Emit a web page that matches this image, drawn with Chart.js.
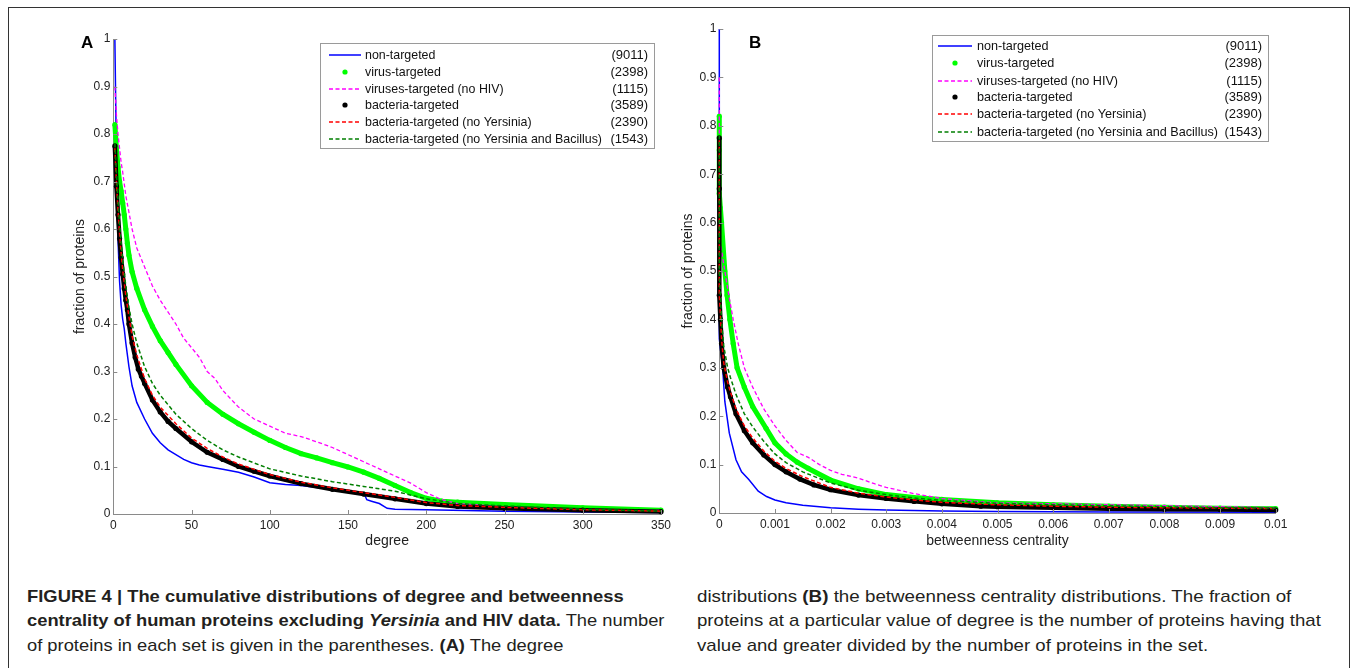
<!DOCTYPE html>
<html>
<head>
<meta charset="utf-8">
<script src="https://cdn.jsdelivr.net/npm/chart.js@4.4.1/dist/chart.umd.min.js"></script>
<style>
  body { margin: 0; background: #fff; width: 1354px; height: 668px; overflow: hidden; position: relative;
         font-family: "Liberation Sans", Arial, sans-serif; color: #231f20; }
  #frame { position: absolute; left: 8px; top: 7px; width: 1342px; height: 720px; border: 1px solid #333; box-sizing: border-box; }
  .panel { position: absolute; top: 0; }
  .tag { position: absolute; font-weight: bold; font-size: 17px; line-height: 19px; color: #000; }
  .cap { position: absolute; font-size: 17px; line-height: 20px; white-space: nowrap; transform-origin: 0 0; }
  .cap b { font-weight: bold; }
</style>
</head>
<body>
<div id="frame"></div>
<div class="panel" style="left:0"><canvas id="chartA" width="680" height="560"></canvas></div>
<div class="panel" style="left:680px"><canvas id="chartB" width="674" height="560"></canvas></div>
<div class="tag" style="left:81px;top:33px">A</div>
<div class="tag" style="left:749px;top:33px">B</div>

<div class="cap" data-w="597" style="left:27px;top:587px"><b>FIGURE 4 | The cumulative distributions of degree and betweenness</b></div>
<div class="cap" data-w="637" style="left:27px;top:611px"><b>centrality of human proteins excluding <i>Yersinia</i> and HIV data.</b> The number</div>
<div class="cap" data-w="same" style="left:27px;top:636px">of proteins in each set is given in the parentheses. <b>(A)</b> The degree</div>
<div class="cap" data-w="594" style="left:697px;top:587px">distributions <b>(B)</b> the betweenness centrality distributions. The fraction of</div>
<div class="cap" data-w="624" style="left:697px;top:611px">proteins at a particular value of degree is the number of proteins having that</div>
<div class="cap" data-w="same" style="left:697px;top:636px">value and greater divided by the number of proteins in the set.</div>

<script>
// legend entries
const seriesNames = ["non-targeted", "virus-targeted", "viruses-targeted (no HIV)", "bacteria-targeted",
                     "bacteria-targeted (no Yersinia)", "bacteria-targeted (no Yersinia and Bacillus)"];
const seriesCounts = ["(9011)", "(2398)", "(1115)", "(3589)", "(2390)", "(1543)"];

// axis ticks
const yTicks = [0, 0.1, 0.2, 0.3, 0.4, 0.5, 0.6, 0.7, 0.8, 0.9, 1];
const yTickLabels = ["0", "0.1", "0.2", "0.3", "0.4", "0.5", "0.6", "0.7", "0.8", "0.9", "1"];
const xTicksA = [0, 50, 100, 150, 200, 250, 300, 350];
const xTickLabelsA = ["0", "50", "100", "150", "200", "250", "300", "350"];
const xTicksB = [0, 0.001, 0.002, 0.003, 0.004, 0.005, 0.006, 0.007, 0.008, 0.009, 0.01];
const xTickLabelsB = ["0", "0.001", "0.002", "0.003", "0.004", "0.005", "0.006", "0.007", "0.008", "0.009", "0.01"];

// panel A: degree
const aNonX = [1, 2, 3, 4, 5, 6, 7, 8, 10, 12, 15, 20, 25, 30, 35, 40, 45, 50, 55, 60, 70, 80, 90, 100, 110, 120, 130, 140, 150, 160, 162, 165, 170, 175, 180, 200, 250, 300, 350];
const aNonY = [1.0, 0.75, 0.58, 0.49, 0.44, 0.41, 0.39, 0.36, 0.31, 0.27, 0.235, 0.2, 0.17, 0.15, 0.135, 0.125, 0.115, 0.108, 0.103, 0.1, 0.094, 0.088, 0.078, 0.066, 0.062, 0.06, 0.056, 0.052, 0.048, 0.045, 0.03, 0.027, 0.022, 0.012, 0.01, 0.009, 0.006, 0.004, 0.003];
const aVirX = [1, 2, 3, 4, 5, 6, 7, 8, 9, 10, 12, 15, 20, 25, 30, 35, 40, 50, 60, 70, 80, 90, 100, 110, 120, 130, 140, 150, 160, 170, 180, 190, 200, 210, 220, 250, 300, 350];
const aVirY = [0.82, 0.77, 0.73, 0.70, 0.68, 0.655, 0.63, 0.60, 0.57, 0.545, 0.51, 0.475, 0.43, 0.395, 0.365, 0.34, 0.315, 0.27, 0.235, 0.21, 0.19, 0.172, 0.155, 0.14, 0.127, 0.118, 0.108, 0.099, 0.088, 0.075, 0.06, 0.045, 0.033, 0.027, 0.025, 0.02, 0.013, 0.008];
const aVirNoHivX = [1, 2, 3, 4, 5, 6, 8, 10, 12, 15, 20, 25, 30, 35, 40, 45, 50, 55, 60, 65, 70, 80, 90, 100, 110, 120, 130, 140, 150, 160, 170, 180, 190, 200, 210, 220, 250, 300, 350];
const aVirNoHivY = [0.9, 0.84, 0.80, 0.77, 0.74, 0.72, 0.67, 0.635, 0.60, 0.56, 0.52, 0.48, 0.45, 0.425, 0.40, 0.37, 0.35, 0.33, 0.30, 0.285, 0.26, 0.225, 0.2, 0.185, 0.17, 0.163, 0.152, 0.14, 0.125, 0.11, 0.095, 0.08, 0.065, 0.045, 0.03, 0.022, 0.015, 0.01, 0.008];
const aBacX = [1, 2, 3, 4, 5, 6, 7, 8, 9, 10, 12, 14, 16, 18, 20, 25, 30, 35, 40, 50, 60, 70, 80, 90, 100, 120, 140, 160, 180, 200, 220, 250, 300, 350];
const aBacY = [0.775, 0.69, 0.63, 0.58, 0.54, 0.505, 0.475, 0.45, 0.43, 0.40, 0.36, 0.33, 0.305, 0.29, 0.275, 0.24, 0.215, 0.195, 0.18, 0.152, 0.13, 0.115, 0.1, 0.09, 0.08, 0.064, 0.052, 0.042, 0.032, 0.022, 0.016, 0.012, 0.008, 0.005];
const aBacNoYX = [1, 2, 3, 4, 5, 6, 8, 10, 12, 15, 20, 25, 30, 40, 50, 60, 70, 80, 100, 120, 140, 160, 180, 200, 220, 250, 300, 350];
const aBacNoYY = [0.77, 0.70, 0.64, 0.59, 0.55, 0.515, 0.46, 0.415, 0.375, 0.335, 0.285, 0.25, 0.225, 0.19, 0.16, 0.138, 0.12, 0.105, 0.083, 0.067, 0.055, 0.045, 0.035, 0.024, 0.018, 0.014, 0.009, 0.006];
const aBacNoYBX = [1, 2, 3, 4, 5, 6, 8, 10, 12, 15, 20, 25, 30, 40, 50, 60, 70, 80, 100, 120, 140, 160, 180, 200, 210, 220, 250, 300, 350];
const aBacNoYBY = [0.78, 0.72, 0.66, 0.61, 0.57, 0.535, 0.48, 0.435, 0.40, 0.36, 0.31, 0.275, 0.25, 0.21, 0.18, 0.155, 0.135, 0.12, 0.095, 0.08, 0.068, 0.058, 0.048, 0.032, 0.027, 0.022, 0.017, 0.01, 0.006];

// panel B: betweenness centrality
const bNonX = [0, 0, 0.00003, 0.00006, 0.0001, 0.00018, 0.0003, 0.0004, 0.00053, 0.0007, 0.00085, 0.001, 0.0012, 0.0015, 0.002, 0.0025, 0.003, 0.004, 0.005, 0.007, 0.01];
const bNonY = [1.0, 0.36, 0.33, 0.30, 0.23, 0.165, 0.11, 0.085, 0.069, 0.045, 0.034, 0.027, 0.021, 0.016, 0.011, 0.008, 0.006, 0.004, 0.003, 0.002, 0.0015];
const bVirX = [0, 0, 0, 0.00002, 0.00004, 0.0001, 0.00014, 0.00019, 0.00025, 0.00032, 0.00045, 0.0006, 0.00084, 0.001, 0.0012, 0.0014, 0.0016, 0.002, 0.0025, 0.003, 0.0035, 0.004, 0.005, 0.006, 0.007, 0.008, 0.009, 0.01];
const bVirY = [0.82, 0.75, 0.66, 0.63, 0.6, 0.5, 0.45, 0.4, 0.35, 0.3, 0.26, 0.22, 0.175, 0.145, 0.122, 0.105, 0.092, 0.068, 0.05, 0.038, 0.032, 0.028, 0.021, 0.017, 0.014, 0.012, 0.01, 0.009];
const bVirNoHivX = [0, 0, 0.00003, 0.0001, 0.00017, 0.00025, 0.00034, 0.00045, 0.0006, 0.0008, 0.001, 0.0012, 0.0014, 0.0016, 0.0018, 0.002, 0.0022, 0.0025, 0.0028, 0.003, 0.0035, 0.004, 0.0045, 0.005, 0.006, 0.007, 0.008, 0.009, 0.01];
const bVirNoHivY = [0.9, 0.58, 0.55, 0.5, 0.45, 0.4, 0.35, 0.3, 0.26, 0.215, 0.18, 0.15, 0.125, 0.115, 0.1, 0.088, 0.08, 0.072, 0.06, 0.053, 0.04, 0.03, 0.025, 0.021, 0.019, 0.017, 0.015, 0.013, 0.011];
const bBacX = [0, 0, 0, 0.00002, 0.00004, 0.00008, 0.00015, 0.0002, 0.0003, 0.00045, 0.0006, 0.0008, 0.001, 0.0012, 0.00145, 0.0017, 0.002, 0.0025, 0.003, 0.0035, 0.004, 0.0047, 0.005, 0.006, 0.007, 0.008, 0.009, 0.01];
const bBacY = [0.775, 0.67, 0.45, 0.40, 0.35, 0.30, 0.26, 0.24, 0.205, 0.17, 0.145, 0.12, 0.1, 0.085, 0.07, 0.058, 0.048, 0.037, 0.03, 0.024, 0.019, 0.014, 0.013, 0.011, 0.009, 0.008, 0.007, 0.006];
const bBacNoYX = [0, 0, 0.00002, 0.00004, 0.00008, 0.00015, 0.0002, 0.0003, 0.00045, 0.0006, 0.0008, 0.001, 0.0012, 0.0015, 0.002, 0.0025, 0.003, 0.0035, 0.004, 0.005, 0.006, 0.007, 0.008, 0.009, 0.01];
const bBacNoYY = [0.77, 0.45, 0.41, 0.36, 0.31, 0.27, 0.25, 0.215, 0.18, 0.155, 0.128, 0.107, 0.092, 0.075, 0.053, 0.041, 0.033, 0.027, 0.022, 0.017, 0.014, 0.012, 0.011, 0.01, 0.009];
const bBacNoYBX = bBacNoYX;
const bBacNoYBY = [0.78, 0.5, 0.45, 0.4, 0.345, 0.3, 0.28, 0.245, 0.205, 0.178, 0.148, 0.122, 0.104, 0.085, 0.062, 0.047, 0.038, 0.031, 0.026, 0.02, 0.017, 0.015, 0.013, 0.011, 0.01];

Chart.defaults.font.family = '"Liberation Sans", Arial, sans-serif';
Chart.defaults.font.size = 12;
Chart.defaults.color = '#222';

const pts = (xs, ys) => xs.map((x, i) => ({ x: x, y: ys[i] }));

// one style per series, same order as seriesNames
const styles = [
    { color: '#0000ff', width: 1.5, dash: [], dot: false, order: 6 },
    { color: '#00ff00', width: 5, dash: [], dot: true, order: 5 },
    { color: '#ff00ff', width: 1.3, dash: [4, 2.5], dot: false, order: 4 },
    { color: '#000000', width: 4.5, dash: [], dot: true, order: 3 },
    { color: '#ff0000', width: 1.5, dash: [4, 2.5], dot: false, order: 2 },
    { color: '#007f00', width: 1.5, dash: [4, 2.5], dot: false, order: 1 },
];

function makeDatasets(series) {
    return series.map((s, i) => {
        const st = styles[i];
        return {
            label: seriesNames[i],
            data: pts(s[0], s[1]),
            showLine: true,
            borderColor: st.color,
            backgroundColor: st.color,
            borderWidth: st.width,
            borderDash: st.dash,
            pointRadius: st.dot ? 2.6 : 0,
            pointBorderWidth: 0,
            order: st.order,
            clip: false,
        };
    });
}

// MATLAB style ticks pointing into the plot
const inwardTicks = {
    id: 'inwardTicks',
    afterDatasetsDraw(chart) {
        const ctx = chart.ctx;
        const xs = chart.scales.x, ys = chart.scales.y;
        const a = chart.chartArea;
        ctx.save();
        ctx.strokeStyle = '#8a8a8a';
        ctx.lineWidth = 1;
        ctx.beginPath();
        xs.ticks.forEach(t => {
            const px = Math.round(xs.getPixelForValue(t.value)) + 0.5;
            ctx.moveTo(px, a.bottom);
            ctx.lineTo(px, a.bottom - 4);
        });
        ys.ticks.forEach(t => {
            const py = Math.round(ys.getPixelForValue(t.value)) + 0.5;
            ctx.moveTo(a.left, py);
            ctx.lineTo(a.left + 4, py);
        });
        ctx.stroke();
        ctx.restore();
    }
};

// boxed legend with counts on the right
const countLegend = {
    id: 'countLegend',
    afterDraw(chart, args, opts) {
        const ctx = chart.ctx;
        ctx.save();
        ctx.fillStyle = '#fff';
        ctx.fillRect(opts.left, opts.top, opts.right - opts.left, opts.bottom - opts.top);
        ctx.strokeStyle = '#9a9a9a';
        ctx.lineWidth = 1;
        ctx.strokeRect(opts.left + 0.5, opts.top + 0.5, opts.right - opts.left, opts.bottom - opts.top);
        ctx.font = '13px "Liberation Sans", Arial, sans-serif';
        ctx.textBaseline = 'middle';
        // names are set a little narrow, as in the original figure
        const sx = opts.nameWidth / ctx.measureText(seriesNames[5]).width;
        seriesNames.forEach((name, i) => {
            const y = opts.rows[i];
            const st = styles[i];
            if (st.dot) {
                ctx.fillStyle = st.color;
                ctx.beginPath();
                ctx.arc((opts.sample[0] + opts.sample[1]) / 2, y, 2.6, 0, Math.PI * 2);
                ctx.fill();
            } else {
                ctx.strokeStyle = st.color;
                ctx.lineWidth = st.width;
                ctx.setLineDash(st.dash);
                ctx.beginPath();
                ctx.moveTo(opts.sample[0], y);
                ctx.lineTo(opts.sample[1], y);
                ctx.stroke();
                ctx.setLineDash([]);
            }
            ctx.fillStyle = '#111';
            ctx.textAlign = 'left';
            ctx.save();
            ctx.translate(opts.textX, y);
            ctx.scale(sx, 1);
            ctx.fillText(name, 0, 0);
            ctx.restore();
            ctx.textAlign = 'right';
            ctx.fillText(seriesCounts[i], opts.countX, y);
        });
        ctx.restore();
    }
};

function makeOptions(p) {
    return {
        responsive: false,
        animation: false,
        devicePixelRatio: 1,
        layout: { padding: { left: 0, right: p.padRight, top: p.padTop, bottom: 0 } },
        plugins: {
            legend: { display: false },
            tooltip: { enabled: false },
            countLegend: p.legend,
        },
        scales: {
            x: {
                type: 'linear', min: p.xTicks[0], max: p.xTicks[p.xTicks.length - 1],
                afterBuildTicks: s => { s.ticks = p.xTicks.map(v => ({ value: v })); },
                afterFit: s => { s.height = p.xAxisH; },
                ticks: { padding: 4, maxRotation: 0, autoSkip: false, callback: (v, i) => p.xLabels[i] },
                grid: { display: true, drawOnChartArea: false, drawTicks: false },
                border: { color: '#8a8a8a', width: 1 },
                title: { display: true, text: p.xTitle, font: { size: 14 }, padding: { top: 0, bottom: 10 } },
            },
            y: {
                type: 'linear', min: 0, max: 1,
                afterBuildTicks: s => { s.ticks = yTicks.map(v => ({ value: v })); },
                afterFit: s => { s.width = p.yAxisW; },
                ticks: { padding: 3, autoSkip: false, callback: (v, i) => yTickLabels[i] },
                grid: { display: true, drawOnChartArea: false, drawTicks: false },
                border: { color: '#8a8a8a', width: 1 },
                title: { display: true, text: 'fraction of proteins', font: { size: 14 }, padding: { top: p.yTitlePad, bottom: 0 } },
            },
        },
    };
}

new Chart(document.getElementById('chartA'), {
    type: 'scatter',
    data: { datasets: makeDatasets([[aNonX, aNonY], [aVirX, aVirY], [aVirNoHivX, aVirNoHivY],
                                    [aBacX, aBacY], [aBacNoYX, aBacNoYY], [aBacNoYBX, aBacNoYBY]]) },
    options: makeOptions({
        padRight: 19, padTop: 39, xAxisH: 46, yAxisW: 113.3, yTitlePad: 72,
        xTicks: xTicksA, xLabels: xTickLabelsA, xTitle: 'degree',
        legend: { left: 320, right: 654, top: 43, bottom: 148, rows: [55, 72, 89, 105, 122, 139],
                  sample: [329, 361], textX: 365, countX: 648, nameWidth: 237 },
    }),
    plugins: [inwardTicks, countLegend],
});

new Chart(document.getElementById('chartB'), {
    type: 'scatter',
    data: { datasets: makeDatasets([[bNonX, bNonY], [bVirX, bVirY], [bVirNoHivX, bVirNoHivY],
                                    [bBacX, bBacY], [bBacNoYX, bBacNoYY], [bBacNoYBX, bBacNoYBY]]) },
    options: makeOptions({
        padRight: 78.3, padTop: 29, xAxisH: 47, yAxisW: 39.3, yTitlePad: 0,
        xTicks: xTicksB, xLabels: xTickLabelsB, xTitle: 'betweenness centrality',
        legend: { left: 252, right: 588, top: 35, bottom: 141, rows: [46, 63, 81, 97, 114, 132],
                  sample: [258, 292], textX: 297, countX: 582, nameWidth: 241 },
    }),
    plugins: [inwardTicks, countLegend],
});

// squeeze caption lines to the column widths of the reference
let lastScale = 1;
document.querySelectorAll('.cap').forEach(el => {
    const w = el.getAttribute('data-w');
    if (w !== 'same') lastScale = Number(w) / el.offsetWidth;
    el.style.transform = 'scaleX(' + lastScale + ')';
});
</script>
</body>
</html>
